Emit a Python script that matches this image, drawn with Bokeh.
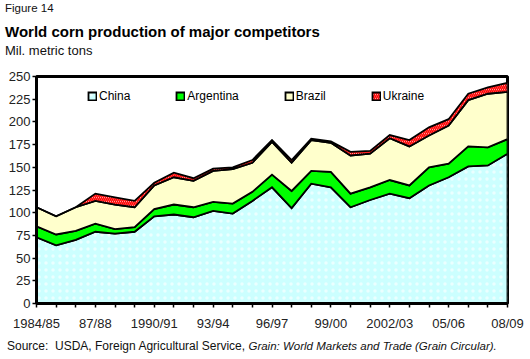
import numpy as np
from bokeh.plotting import figure
from bokeh.layouts import column
from bokeh.models import Legend, LegendItem, FixedTicker, Range1d, Div
from bokeh.embed import file_html
from bokeh.resources import INLINE

# ---- data (million metric tons) ----
years = ["1984/85", "85/86", "86/87", "87/88", "88/89", "89/90", "1990/91", "91/92",
         "92/93", "93/94", "94/95", "95/96", "96/97", "97/98", "98/99", "99/00",
         "2000/01", "01/02", "2002/03", "03/04", "04/05", "05/06", "06/07", "07/08", "08/09"]
shown_labels = ["1984/85", "87/88", "1990/91", "93/94", "96/97", "99/00", "2002/03", "05/06", "08/09"]
china = [73, 64, 70, 79, 77, 79, 96, 98, 95, 102, 99, 113, 128, 105, 132, 128, 106, 114, 121, 116, 130, 139, 151, 152, 165]
argentina = [12, 12, 10, 9, 5, 5, 8, 11, 11, 10, 11, 10, 14, 19, 14, 17, 15, 14, 15, 14, 20, 15, 22, 20, 16]
brazil = [21, 20, 26, 25, 27, 22, 26, 30, 29, 34, 38, 32, 36, 31, 34, 32, 42, 37, 46, 43, 35, 42, 51, 59, 52]
ukraine = [0, 0, 0, 8, 8, 7, 3, 5, 3, 2.5, 2, 3, 2, 3, 1.5, 1.5, 4, 3, 3.5, 7, 9, 7, 7, 7, 10]
y_ticks = [0, 25, 50, 75, 100, 125, 150, 175, 200, 225, 250]

FONT = "Liberation Sans"

TOTAL_W, TOTAL_H = 530, 359
HEADER_H = 70
FOOTER_H = 24
FIG_H = TOTAL_H - HEADER_H - FOOTER_H
L, R, T, B = 36, 23, 6, 32

p = figure(width=TOTAL_W, height=FIG_H, x_range=Range1d(0, len(years) - 1), y_range=Range1d(0, 250),
           output_backend="svg", toolbar_location=None, margin=0,
           min_border_left=L, min_border_right=R, min_border_top=T, min_border_bottom=B)
p.background_fill_color = "white"
p.border_fill_color = "white"
p.grid.visible = False
p.outline_line_color = "black"
p.outline_line_width = 3

idx = np.arange(len(years))
series = [
    ("China", china, dict(fill_color="#CCFFFF", hatch_pattern="dot", hatch_color="white",
                          hatch_scale=7, hatch_weight=1, hatch_alpha=0.6)),
    ("Argentina", argentina, dict(fill_color="#00FF00")),
    ("Brazil", brazil, dict(fill_color="#FFFFCC")),
    ("Ukraine", ukraine, dict(fill_color="white", hatch_pattern="left_diagonal_line",
                              hatch_color="#FF0000", hatch_scale=4, hatch_weight=1.6)),
]
bottom = np.zeros(len(years))
items = []
for name, vals, style in series:
    top = bottom + np.array(vals, dtype=float)
    xs = np.concatenate([idx, idx[::-1]])
    ys = np.concatenate([top, bottom[::-1]])
    r = p.patch(xs, ys, line_color="black", line_width=1.8, line_join="miter", **style)
    items.append(LegendItem(label=name, renderers=[r]))
    bottom = top

# axes
p.xaxis.ticker = FixedTicker(ticks=list(range(len(years))))
p.xaxis.major_label_overrides = {int(i): (y if y in shown_labels else "") for i, y in enumerate(years)}
p.yaxis.ticker = FixedTicker(ticks=y_ticks)
for ax in (p.xaxis[0], p.yaxis[0]):
    ax.axis_line_width = 3
    ax.axis_line_color = "black"
    ax.major_tick_line_color = "black"
    ax.major_tick_line_width = 1.5
    ax.major_tick_in = 0
    ax.major_tick_out = 4
    ax.minor_tick_line_color = None
    ax.major_label_text_font = FONT
    ax.major_label_text_font_size = "13px"
    ax.major_label_text_color = "#222222"
p.xaxis.major_label_standoff = 8
p.yaxis.major_label_standoff = 2

legend = Legend(items=items, orientation="horizontal", location=(51, 200), spacing=45,
                padding=0, margin=0, glyph_width=10, glyph_height=10, label_height=12,
                label_standoff=2, label_text_font=FONT, label_text_font_size="12px",
                label_text_color="black", border_line_color=None, background_fill_alpha=0)
p.add_layout(legend)

FF = "font-family:'Liberation Sans',Arial,sans-serif;"
def txt(left, top, size, content, extra=""):
    return (f"<div style=\"position:absolute;left:{left}px;top:{top}px;{FF}font-size:{size}px;"
            f"line-height:{size}px;white-space:nowrap;color:#111;{extra}\">{content}</div>")

header_html = ("<div style=\"position:relative;width:530px;height:%dpx;\">" % HEADER_H
               + txt(5, 2.8, 11.5, "Figure 14")
               + txt(5, 23.6, 15, "World corn production of major competitors", "font-weight:bold;color:#000;")
               + txt(5, 43.5, 13, "Mil. metric tons")
               + "</div>")
footer_html = ("<div style=\"position:relative;width:530px;height:%dpx;\">" % FOOTER_H
               + txt(7, 5.3, 12, "Source:&nbsp; USDA, Foreign Agricultural Service, "
                     "<i style=\"font-size:11.5px;\">Grain: World Markets and Trade (Grain Circular).</i>")
               + "</div>")

header = Div(text=header_html, width=TOTAL_W, height=HEADER_H, margin=0)
footer = Div(text=footer_html, width=TOTAL_W, height=FOOTER_H, margin=0)

layout = column(header, p, footer, spacing=0, margin=0)

open("out.html", "w").write(file_html(layout, INLINE))
